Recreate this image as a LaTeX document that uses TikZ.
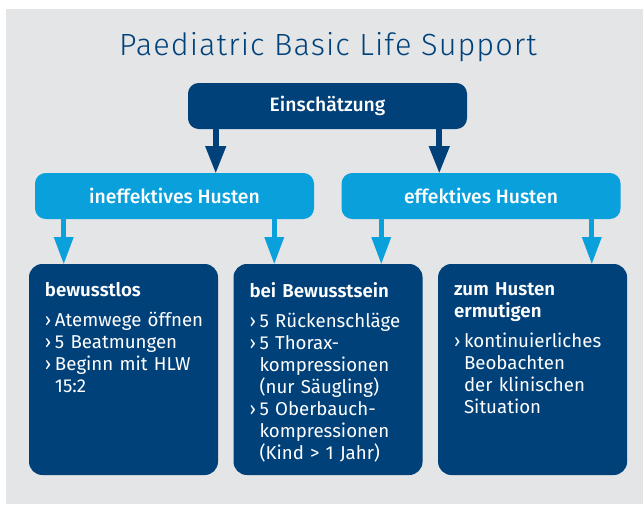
\documentclass[tikz,border=0pt]{standalone}
\usepackage{fontspec}
\setmainfont{Fira Sans}[BoldFont={Fira Sans SemiBold}]
\newfontfamily\titlefont{Fira Sans Light}[LetterSpace=3.5]
\newfontfamily\labelfont{Fira Sans Medium}
\usepackage{tikz}
\usetikzlibrary{arrows.meta, positioning, calc}

\definecolor{navy}{RGB}{0,65,122}
\definecolor{skyblue}{RGB}{10,160,219}
\definecolor{bggray}{RGB}{228,229,231}

\newcommand{\itm}{\makebox[7.5pt][l]{›}}
\newcommand{\ind}{\hspace*{7.5pt}}

\begin{document}
\begin{tikzpicture}[
        x=0.75pt, y=-0.75pt,
        node distance=11.25pt,
        topbox/.style={rectangle, rounded corners=8pt, fill=navy, text=white, minimum width=209.25pt, minimum height=34.5pt, font=\labelfont\fontsize{14.5}{17}\selectfont},
        casebox/.style={topbox, fill=skyblue},
        actbox/.style={rectangle, rounded corners=10pt, fill=navy, minimum width=141.75pt, minimum height=158.25pt},
        acttext/.style={anchor=north west, inner sep=0pt, text=white, align=left, text width=125pt, font=\fontsize{14}{16.5}\selectfont},
        darrow/.style={-{Triangle[length=20pt, width=16pt, line width=0pt]}, line width=4.5pt, navy},
        larrow/.style={-{Triangle[length=20pt, width=15pt, line width=0pt]}, line width=3.75pt, skyblue}
    ]

    % --- Background ---
    \useasboundingbox (0,0) rectangle (643,504);
    \fill[bggray] (6,9) rectangle (643,504);

    % --- Title ---
    \node[anchor=base, text=navy, font=\titlefont\fontsize{23}{27}\selectfont] (title) at (328,55) {Paediatric Basic Life Support};

    % --- Core Nodes ---
    \node[topbox] (assess) at (327.5,106) {Einschätzung};
    \node[casebox] (ineff) at (174.5,196) {ineffektives Husten};
    \node[casebox, right=20.25pt of ineff] (eff) {effektives Husten};

    \node[actbox] (unconsc) at (123.5,369.5) {};
    \node[actbox, right=of unconsc] (consc) {};
    \node[actbox, right=of consc] (cough) {};

    % --- Box Texts ---
    \node[acttext] (unconsc_txt) at ([shift={(12pt,-14pt)}]unconsc.north west) {%
        \textbf{bewusstlos}\\[6pt]
        \itm Atemwege öffnen\\
        \itm 5 Beatmungen\\
        \itm Beginn mit HLW\\
        \ind 15:2};
    \node[acttext] (consc_txt) at ([shift={(12pt,-14pt)}]consc.north west) {%
        \textbf{bei Bewusstsein}\\[6pt]
        \itm 5 Rückenschläge\\
        \itm 5 Thorax-\\
        \ind kompressionen\\
        \ind (nur Säugling)\\
        \itm 5 Oberbauch-\\
        \ind kompressionen\\
        \ind (Kind > 1 Jahr)};
    \node[acttext] (cough_txt) at ([shift={(12pt,-14pt)}]cough.north west) {%
        \textbf{zum Husten}\\
        \textbf{ermutigen}\\[6pt]
        \itm kontinuierliches\\
        \ind Beobachten\\
        \ind der klinischen\\
        \ind Situation};

    % --- Connections ---
    \draw[darrow] ([xshift=21pt]assess.south west) -- ([xshift=21pt]assess.south west |- ineff.north);
    \draw[darrow] ([xshift=-21pt]assess.south east) -- ([xshift=-21pt]assess.south east |- eff.north);

    \draw[larrow] ([xshift=21.75pt]ineff.south west) -- ([xshift=21.75pt]ineff.south west |- unconsc.north);
    \draw[larrow] ([xshift=-30pt]ineff.south east) -- ([xshift=-30pt]ineff.south east |- consc.north);
    \draw[larrow] ([xshift=30pt]eff.south west) -- ([xshift=30pt]eff.south west |- consc.north);
    \draw[larrow] ([xshift=-21.75pt]eff.south east) -- ([xshift=-21.75pt]eff.south east |- cough.north);

\end{tikzpicture}
\end{document}
